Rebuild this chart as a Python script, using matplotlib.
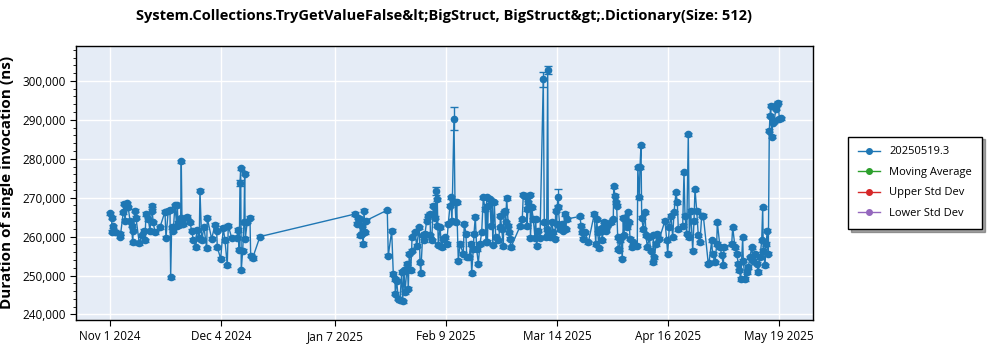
import numpy as np
import pandas as pd
import matplotlib
matplotlib.use("Agg")
import matplotlib.pyplot as plt
from matplotlib.lines import Line2D
from matplotlib.ticker import FuncFormatter, MultipleLocator, NullLocator

plt.rcParams['font.family'] = ['Open Sans', 'DejaVu Sans']

# benchmark run timestamps, as days after 2024-11-01
days = [
    0.0, 0.51, 0.61, 0.98, 1.49, 2.97, 3.07, 3.96, 4.16, 4.46, 4.97, 5.44, 5.95, 6.45, 6.75, 6.93,
    7.44, 7.73, 8.72, 9.43, 10.11, 10.41, 10.71, 11.39, 11.90, 12.40, 12.50, 12.88, 13.38, 14.87,
    16.36, 16.66, 17.34, 17.85, 18.05, 18.35, 18.83, 19.33, 19.84, 20.02, 20.23, 20.52, 21.03, 21.21,
    21.42, 21.86, 22.99, 23.80, 24.30, 24.78, 25.58, 25.79, 26.56, 26.77, 27.28, 27.96, 28.76, 28.94,
    30.25, 31.23, 31.74, 31.92, 32.93, 33.70, 34.21, 34.89, 35.19, 36.20, 37.69, 38.16, 38.46, 38.67,
    38.88, 39.05, 39.47, 39.86, 40.06, 40.24, 40.84, 41.64, 41.85, 42.44, 44.62,
    72.87, 73.38, 73.85, 74.36, 74.46, 74.87, 74.97, 75.34, 75.55, 75.85, 76.14,
    82.48, 82.78, 83.79, 84.27, 84.77, 84.87, 85.28, 85.75, 86.26, 86.76, 87.06, 87.45, 87.75, 88.25,
    88.43, 88.73, 89.02, 89.44, 89.74, 89.83, 90.72, 91.23, 92.00, 92.21, 92.42, 93.01, 93.40, 93.69,
    94.20, 94.68, 95.18, 95.33, 95.69, 96.16, 96.67, 96.97, 97.17, 97.35, 97.65, 98.16, 98.66, 99.14,
    99.64, 100.15, 100.62, 101.13, 101.34, 101.72, 102.32, 102.62, 102.91, 103.12, 103.60, 104.10,
    105.08, 105.38, 105.89, 106.10, 106.87, 107.29, 107.59, 108.06, 108.27, 108.66, 109.07, 109.55,
    110.05, 110.56, 111.04, 111.54, 111.84, 112.05, 112.28, 112.52, 113.03, 113.33, 113.71, 113.86,
    114.31, 114.72, 115.50, 116.00, 116.15, 116.51, 116.98, 117.19, 117.49, 117.70, 117.99, 118.47,
    118.68, 118.98, 119.27, 121.95, 122.63, 122.93, 123.44, 123.94, 124.03, 124.42, 124.93, 125.07,
    125.43, 125.91, 126.41, 126.62, 126.92, 127.39, 127.90, 128.88, 129.18, 129.60, 129.89, 130.19,
    130.37, 130.87, 131.38, 131.86, 132.36, 132.57, 132.87, 133.17, 133.34, 133.85, 134.35, 134.83,
    135.34, 135.54, 135.84, 139.80, 140.10, 140.48, 140.78, 141.28, 142.27, 144.05, 144.47, 144.76,
    145.06, 145.45, 145.75, 146.25, 146.43, 146.73, 147.03, 147.44, 147.74, 148.21, 149.02, 149.70,
    149.82, 150.21, 150.42, 150.71, 151.01, 151.19, 151.49, 151.70, 151.90, 152.38, 152.68, 152.88,
    153.18, 153.69, 154.16, 154.46, 154.67, 155.17, 155.65, 156.84, 156.99, 157.44, 157.64, 157.94,
    158.15, 158.62, 159.13, 159.43, 159.82, 160.41, 160.83, 161.42, 161.60, 161.90, 162.40, 162.79,
    163.39, 165.08, 165.59, 165.88, 166.36, 166.87, 167.37, 167.76, 168.35, 168.74, 169.04, 170.35,
    170.73, 171.03, 171.54, 172.01, 172.31, 172.73, 173.32, 173.71, 174.00, 174.51, 174.98, 175.49,
    175.99, 176.47, 177.96, 178.17, 178.97, 179.21, 179.95, 180.46, 180.64, 181.44, 181.94, 182.42,
    182.63, 184.92, 185.22, 185.90, 186.41, 186.88, 187.18, 187.60, 188.19, 188.37, 188.88, 189.38,
    189.86, 190.36, 190.87, 191.34, 191.85, 192.35, 192.83, 193.34, 193.84, 194.14, 194.32, 194.83,
    195.12, 195.51, 195.81, 196.10, 196.31, 196.52, 196.82, 197.11, 197.50, 198.10, 198.48, 198.78,
    199.08, 199.49,
]

# mean duration per run, thousands of ns
vals_k = [
    266.0, 264.9, 261.3, 262.6, 261.3, 260.7, 260.0, 266.2, 268.4, 264.1, 268.6, 267.5, 264.1, 262.8, 258.5, 261.5,
    266.7, 264.9, 258.3, 260.3, 261.5, 259.0, 265.8, 264.5, 261.5, 267.9, 266.7, 263.7, 261.1, 262.4,
    266.4, 259.7, 266.7, 266.8, 249.6, 262.4, 261.5, 268.1, 262.8, 268.1, 263.5, 262.9, 264.9, 279.3,
    264.5, 263.2, 265.1, 263.7, 261.5, 259.2, 257.3, 261.7, 259.7, 271.8, 259.0, 262.4, 257.0, 264.8,
    259.4, 263.1, 261.5, 257.3, 254.3, 262.2, 259.0, 252.6, 262.8, 259.7, 259.7, 261.7, 256.6, 273.7,
    277.6, 251.3, 256.4, 263.7, 276.1, 259.4, 263.8, 264.9, 255.1, 254.5, 260.0,
    265.8, 263.3, 264.9, 264.5, 260.3, 262.8, 260.7, 258.1, 266.7, 261.1, 264.1,
    266.8, 255.1, 261.5, 250.4, 249.1, 245.3, 248.7, 244.0, 243.6, 250.9, 243.4, 251.3, 245.7, 251.3,
    253.0, 246.6, 255.6, 251.3, 256.4, 259.8, 261.1, 257.7, 262.4, 253.4, 250.6, 260.3, 259.0, 260.7,
    264.1, 265.4, 265.8, 260.3, 259.0, 267.9, 264.9, 271.8, 262.8, 269.6, 257.9, 262.4, 257.3, 259.4,
    259.8, 258.1, 263.3, 267.9, 270.1, 264.0, 290.3, 268.8, 263.7, 268.8, 253.8, 258.1,
    255.6, 263.3, 260.7, 254.7, 254.7, 258.1, 250.6, 256.8, 260.7, 265.1, 256.8, 253.0,
    258.1, 261.1, 270.1, 267.1, 258.5, 270.1, 258.7, 267.9, 269.6, 262.8, 268.8, 257.9,
    268.8, 259.8, 259.0, 262.4, 265.4, 261.9, 257.5, 266.2, 266.7, 263.7, 269.9, 262.8,
    261.1, 259.4, 257.3, 262.6, 264.5, 270.7, 270.5, 267.1, 262.6, 268.8, 270.7, 259.7,
    267.5, 264.5, 259.7, 264.5, 257.7, 261.5, 259.7, 300.4, 263.7, 259.8, 261.9, 302.8,
    260.3, 259.8, 263.8, 261.1, 259.4, 266.7, 263.3, 270.1, 267.5, 261.9, 263.3, 261.5,
    265.8, 261.9, 264.5, 265.2, 262.8, 261.1, 259.4, 261.1, 258.5, 265.8, 258.1, 264.5,
    261.1, 257.0, 261.9, 261.5, 259.0, 262.4, 263.8, 261.5, 262.8, 263.3, 263.7, 264.5,
    272.9, 270.5, 268.8, 267.9, 259.8, 256.7, 256.6, 259.0, 259.8, 254.3, 264.9, 260.3,
    264.9, 262.4, 266.2, 263.7, 259.4, 257.3, 258.5, 257.7, 277.8, 270.1, 277.8, 283.5,
    264.9, 261.9, 266.2, 260.3, 257.3, 259.8, 256.4, 253.4, 260.3, 254.7, 258.1, 260.7,
    259.4, 264.1, 259.0, 255.6, 262.4, 265.4, 259.8, 266.2, 271.4, 268.8, 261.9, 262.8,
    276.5, 265.4, 260.7, 286.3, 259.8, 266.7, 256.4, 264.1, 272.2, 266.7, 260.3, 258.5,
    265.4, 265.4, 253.0, 253.2, 259.0, 255.6, 253.4, 258.1, 263.7, 257.3, 255.4, 252.6,
    257.3, 258.1, 262.4, 257.3, 255.6, 253.0, 251.3, 249.1, 259.8, 253.8, 249.1, 250.9,
    252.2, 254.7, 257.3, 253.8, 255.6, 253.0, 250.9, 254.7, 259.0, 267.5, 256.4, 252.6,
    258.1, 261.5, 255.6, 287.2, 291.0, 293.6, 285.6, 289.3, 289.7, 292.8, 294.0, 294.4,
    290.2, 290.4,
]

# runs with a wider error margin (day -> error, thousands of ns)
wide_err_days = [38.67, 96.97, 102.32, 128.88, 130.19, 133.17]
wide_err_k = [0.8, 1.0, 2.9, 2.0, 1.0, 2.0]
base_err_k = 0.4

series_name = '20250519.3'
legend_names = [series_name, 'Moving Average', 'Upper Std Dev', 'Lower Std Dev']
legend_colors = ['#1f77b4', '#2ca02c', '#d62728', '#9467bd']

tick_dates = ['2024-11-01', '2024-12-04', '2025-01-07', '2025-02-09',
              '2025-03-14', '2025-04-16', '2025-05-19']
tick_labels = ['Nov 1 2024', 'Dec 4 2024', 'Jan 7 2025', 'Feb 9 2025',
               'Mar 14 2025', 'Apr 16 2025', 'May 19 2025']

start = pd.Timestamp('2024-11-01')
x = start + pd.to_timedelta(np.array(days), unit='D')
y = np.array(vals_k) * 1000
err = np.full(len(y), base_err_k * 1000)
for d, e in zip(wide_err_days, wide_err_k):
    err[int(np.argmin(np.abs(np.array(days) - d)))] = e * 1000

fig = plt.figure(figsize=(10, 3.5), dpi=100)
ax = fig.add_axes([0.076, 0.086, 0.737, 0.783])
ax.set_facecolor('#e5ecf6')
ax.grid(True, color='white', linewidth=1)
ax.set_axisbelow(True)

ax.errorbar(x, y, yerr=err, color='#1f77b4', ecolor='#1f77b4', lw=1, marker='o', ms=4.5,
            capsize=3, elinewidth=1, capthick=1)

ax.set_xlim(start - pd.Timedelta(days=10.1), start + pd.Timedelta(days=209.1))
ax.set_ylim(238600, 309000)
ax.set_xticks(pd.to_datetime(tick_dates))
ax.set_xticklabels(tick_labels, fontsize=8.5)
ax.xaxis.set_minor_locator(NullLocator())
ax.yaxis.set_major_locator(MultipleLocator(10000))
ax.yaxis.set_minor_locator(MultipleLocator(2000))
ax.yaxis.set_major_formatter(FuncFormatter(lambda v, p: f'{v:,.0f}'))
ax.tick_params(axis='y', labelsize=8.5)
ax.tick_params(axis='both', which='major', length=4)
ax.tick_params(axis='y', which='minor', length=2)
for s in ax.spines.values():
    s.set_linewidth(1)

ax.set_ylabel('Duration of single invocation (ns)', fontsize=11, fontweight='bold')
ax.yaxis.set_label_coords(-0.084, 0.5)
fig.suptitle('System.Collections.TryGetValueFalse&lt;BigStruct, BigStruct&gt;.Dictionary(Size: 512)',
             x=0.444, y=0.975, fontsize=10.5, fontweight='bold')

handles = [Line2D([0], [0], color=c, lw=1, marker='o', ms=4) for c in legend_colors]
leg = fig.legend(handles, legend_names, loc='upper left', bbox_to_anchor=(0.848, 0.61),
                 fontsize=8, frameon=True, fancybox=False, shadow=True, borderpad=0.9,
                 labelspacing=0.85, handlelength=2.0, borderaxespad=0)
leg.get_frame().set_edgecolor('black')
leg.get_frame().set_linewidth(1)

fig.savefig('out.png', dpi=100)
